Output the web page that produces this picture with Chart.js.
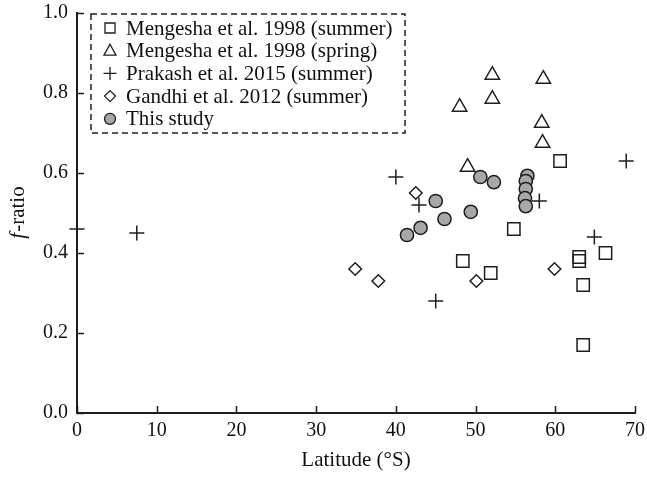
<!DOCTYPE html>
<html>
<head>
<meta charset="utf-8">
<script src="https://cdn.jsdelivr.net/npm/chart.js@4"></script>
<style>
  html, body { margin: 0; padding: 0; background: #fff; }
  #wrap { width: 647px; height: 477px; }
</style>
</head>
<body>
<div id="wrap"><canvas id="chart"></canvas></div>
<script>
// ── Data (latitude °S, f-ratio) ───────────────────────────────
const mengeshaSummerLat = [60.6, 54.8, 48.4, 51.9, 63.0, 63.0, 66.3, 63.5, 63.5];
const mengeshaSummerF   = [0.63, 0.46, 0.38, 0.35, 0.39, 0.38, 0.40, 0.32, 0.17];

const mengeshaSpringLat = [52.1, 58.5, 48.0, 52.1, 58.3, 58.4, 49.0];
const mengeshaSpringF   = [0.845, 0.835, 0.765, 0.785, 0.725, 0.675, 0.615];

const prakashLat = [0.0, 7.5, 40.0, 42.9, 58.0, 68.9, 64.9, 45.0];
const prakashF   = [0.46, 0.45, 0.59, 0.52, 0.53, 0.63, 0.44, 0.28];

const gandhiLat = [34.9, 37.8, 42.5, 50.1, 59.9];
const gandhiF   = [0.36, 0.33, 0.55, 0.33, 0.36];

const thisStudyLat = [41.4, 43.1, 45.0, 46.1, 49.4, 50.6, 52.3, 56.5, 56.3, 56.3, 56.2, 56.3];
const thisStudyF   = [0.445, 0.463, 0.53, 0.485, 0.503, 0.59, 0.577, 0.593, 0.58, 0.56, 0.537, 0.517];

const xTicks = [0, 10, 20, 30, 40, 50, 60, 70];
const yTicks = [0.0, 0.2, 0.4, 0.6, 0.8, 1.0];

const legendLabels = [
    "Mengesha et al. 1998 (summer)",
    "Mengesha et al. 1998 (spring)",
    "Prakash et al. 2015 (summer)",
    "Gandhi et al. 2012 (summer)",
    "This study"
];

// ── Helpers ──────────────────────────────────────────────────
const ink = "#1e1e1e";
const serif = "'Liberation Serif', 'Times New Roman', serif";

function toPoints(xs, ys) {
    return xs.map((x, i) => ({ x, y: ys[i] }));
}

function series(label, xs, ys, style, radius, fill, order) {
    return {
        label,
        data: toPoints(xs, ys),
        pointStyle: style,
        pointRadius: radius,
        pointHoverRadius: radius,
        pointBorderWidth: 1.5,
        pointBorderColor: ink,
        pointBackgroundColor: fill,
        showLine: false,
        clip: false,
        order
    };
}

// inward tick marks
const innerTicks = {
    id: "innerTicks",
    afterDraw(chart) {
        const { ctx, scales } = chart;
        const len = 7;
        ctx.save();
        ctx.strokeStyle = ink;
        ctx.lineWidth = 1.5;
        const xs = scales.x, ys = scales.y;
        ctx.beginPath();
        xTicks.forEach(v => {
            const px = Math.round(xs.getPixelForValue(v)) + 0.5;
            ctx.moveTo(px, xs.top);
            ctx.lineTo(px, xs.top - len);
        });
        yTicks.forEach(v => {
            const py = Math.round(ys.getPixelForValue(v)) + 0.5;
            ctx.moveTo(ys.right, py);
            ctx.lineTo(ys.right + len, py);
        });
        ctx.stroke();
        ctx.restore();
    }
};

// axis titles and dashed legend box
function drawMarker(ctx, kind, x, y) {
    ctx.beginPath();
    if (kind === "rect") {
        ctx.rect(x - 5, y - 5, 10, 10);
    } else if (kind === "triangle") {
        ctx.moveTo(x, y - 6.5);
        ctx.lineTo(x + 6, y + 4.5);
        ctx.lineTo(x - 6, y + 4.5);
        ctx.closePath();
    } else if (kind === "cross") {
        ctx.moveTo(x - 6.5, y); ctx.lineTo(x + 6.5, y);
        ctx.moveTo(x, y - 6.5); ctx.lineTo(x, y + 6.5);
    } else if (kind === "rectRot") {
        ctx.moveTo(x, y - 5.5); ctx.lineTo(x + 5.5, y);
        ctx.lineTo(x, y + 5.5); ctx.lineTo(x - 5.5, y);
        ctx.closePath();
    } else {
        ctx.arc(x, y, 5.5, 0, Math.PI * 2);
        ctx.fillStyle = "#a8a8a8";
        ctx.fill();
    }
    ctx.stroke();
}

const decorations = {
    id: "decorations",
    afterDraw(chart) {
        const { ctx, chartArea } = chart;
        ctx.save();
        ctx.fillStyle = "#111";

        // x title
        ctx.font = "21px " + serif;
        ctx.textAlign = "center";
        ctx.textBaseline = "alphabetic";
        ctx.fillText("Latitude (°S)", (chartArea.left + chartArea.right) / 2, 466);

        // y title, italic f
        ctx.translate(24, (chartArea.top + chartArea.bottom) / 2);
        ctx.rotate(-Math.PI / 2);
        ctx.font = "italic 21px " + serif;
        const fW = ctx.measureText("f").width;
        ctx.font = "21px " + serif;
        const restW = ctx.measureText("-ratio").width;
        const start = -(fW + restW) / 2;
        ctx.textAlign = "left";
        ctx.font = "italic 21px " + serif;
        ctx.fillText("f", start, 0);
        ctx.font = "21px " + serif;
        ctx.fillText("-ratio", start + fW + 1, 0);
        ctx.setTransform(1, 0, 0, 1, 0, 0);

        // legend box
        ctx.strokeStyle = ink;
        ctx.lineWidth = 1.5;
        ctx.setLineDash([6, 4]);
        ctx.strokeRect(91, 14, 314, 119);
        ctx.setLineDash([]);

        const kinds = ["rect", "triangle", "cross", "rectRot", "circle"];
        ctx.font = "21px " + serif;
        ctx.textAlign = "left";
        ctx.textBaseline = "middle";
        legendLabels.forEach((txt, i) => {
            const y = 28 + i * 22.7;
            ctx.strokeStyle = ink;
            ctx.lineWidth = 1.3;
            drawMarker(ctx, kinds[i], 110, y);
            ctx.fillStyle = "#111";
            ctx.fillText(txt, 126, y + 1);
        });
        ctx.restore();
    }
};

// ── Chart ────────────────────────────────────────────────────
new Chart(document.getElementById("chart"), {
    type: "scatter",
    data: {
        datasets: [
            series(legendLabels[0], mengeshaSummerLat, mengeshaSummerF, "rect", 8.7, "rgba(0,0,0,0)", 3),
            series(legendLabels[1], mengeshaSpringLat, mengeshaSpringF, "triangle", 8.3, "rgba(0,0,0,0)", 3),
            series(legendLabels[2], prakashLat, prakashF, "cross", 7.5, "rgba(0,0,0,0)", 1),
            series(legendLabels[3], gandhiLat, gandhiF, "rectRot", 6.3, "rgba(0,0,0,0)", 3),
            series(legendLabels[4], thisStudyLat, thisStudyF, "circle", 6.6, "#a8a8a8", 2)
        ]
    },
    options: {
        responsive: true,
        maintainAspectRatio: false,
        animation: false,
        devicePixelRatio: 1,
        layout: { padding: { top: 13, right: 12, left: 0, bottom: 0 } },
        plugins: {
            legend: { display: false },
            tooltip: { enabled: false }
        },
        scales: {
            x: {
                type: "linear",
                min: 0,
                max: 70,
                afterFit: s => { s.height = 64; s.paddingLeft = 0; s.paddingRight = 0; },
                afterBuildTicks: s => { s.ticks = xTicks.map(v => ({ value: v })); },
                ticks: {
                    padding: 6,
                    color: "#111",
                    font: { family: serif, size: 20 }
                },
                grid: { display: true, drawOnChartArea: false, drawTicks: false },
                border: { display: true, color: ink, width: 2 }
            },
            y: {
                min: 0,
                max: 1,
                afterFit: s => { s.width = 77; s.paddingTop = 0; s.paddingBottom = 0; },
                afterBuildTicks: s => { s.ticks = yTicks.map(v => ({ value: v })); },
                ticks: {
                    padding: 9,
                    color: "#111",
                    font: { family: serif, size: 20 },
                    callback: v => Number(v).toFixed(1)
                },
                grid: { display: true, drawOnChartArea: false, drawTicks: false },
                border: { display: true, color: ink, width: 2 }
            }
        }
    },
    plugins: [innerTicks, decorations]
});
</script>
</body>
</html>
